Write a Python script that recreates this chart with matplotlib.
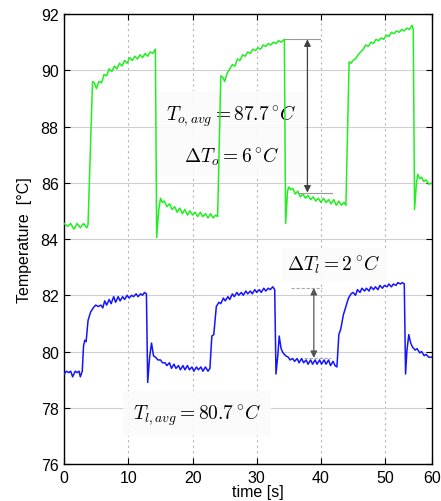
#!/usr/bin/env python3
"""Outer / inner temperature during periodic heating (two traces, annotated swings)."""

import matplotlib

matplotlib.use("Agg")
import matplotlib.pyplot as plt

# outer surface trace (green)
t_outer = [
    0.0, 0.5, 1.0, 1.5, 2.0, 2.5, 3.0, 3.5, 3.7, 4.4, 4.7, 5.0, 5.4, 5.8, 6.2, 6.6,
    7.0, 7.4, 7.8, 8.2, 8.6, 9.0, 9.4, 9.8, 10.2, 10.6, 11.0, 11.4, 11.8, 12.2,
    12.6, 13.0, 13.4, 13.8, 14.2, 14.4, 14.7, 15.0, 15.3, 15.6, 16.0, 16.4, 16.8,
    17.2, 17.6, 18.0, 18.4, 18.8, 19.2, 19.6, 20.0, 20.4, 20.8, 21.2, 21.6, 22.0,
    22.4, 22.8, 23.2, 23.6, 23.9, 24.4, 24.7, 25.0, 25.4, 25.8, 26.2, 26.6, 27.0,
    27.4, 27.8, 28.2, 28.6, 29.0, 29.4, 29.8, 30.2, 30.6, 31.0, 31.4, 31.8, 32.2,
    32.6, 33.0, 33.4, 33.8, 34.3, 34.5, 34.8, 35.0, 35.3, 35.6, 36.0, 36.4, 36.8,
    37.2, 37.6, 38.0, 38.4, 38.8, 39.2, 39.6, 40.0, 40.4, 40.8, 41.2, 41.6, 42.0,
    42.4, 42.8, 43.2, 43.6, 43.9, 44.4, 44.7, 45.0, 45.4, 45.8, 46.2, 46.6, 47.0,
    47.4, 47.8, 48.2, 48.6, 49.0, 49.4, 49.8, 50.2, 50.6, 51.0, 51.4, 51.8, 52.2,
    52.6, 53.0, 53.4, 53.8, 54.2, 54.4, 54.6, 54.9, 55.1, 55.4, 55.7, 56.0, 56.4,
    56.8, 57.4,
]
T_outer = [
    84.55, 84.45, 84.55, 84.35, 84.55, 84.4, 84.55, 84.4, 84.5, 89.6, 89.55, 89.35,
    89.6, 89.55, 89.85, 89.8, 90.05, 89.95, 90.15, 90.05, 90.25, 90.15, 90.35,
    90.25, 90.45, 90.35, 90.5, 90.4, 90.55, 90.45, 90.6, 90.5, 90.65, 90.6, 90.75,
    84.05, 85.0, 85.45, 85.3, 85.35, 85.15, 85.25, 85.05, 85.15, 84.95, 85.1, 84.9,
    85.05, 84.85, 85.0, 84.85, 84.95, 84.8, 84.95, 84.8, 84.9, 84.75, 84.9, 84.75,
    84.85, 84.8, 89.8, 89.75, 89.6, 89.9, 90.05, 90.2, 90.15, 90.4, 90.35, 90.55,
    90.5, 90.65, 90.6, 90.75, 90.7, 90.8, 90.75, 90.9, 90.85, 90.95, 90.9, 91.0,
    90.95, 91.05, 91.0, 91.1, 84.55, 85.7, 85.85, 85.75, 85.8, 85.6, 85.7, 85.5,
    85.6, 85.45, 85.55, 85.4, 85.5, 85.35, 85.45, 85.3, 85.45, 85.3, 85.4, 85.25,
    85.4, 85.2, 85.35, 85.2, 85.3, 85.2, 90.3, 90.25, 90.35, 90.4, 90.55, 90.65,
    90.75, 90.9, 90.85, 91.0, 90.95, 91.1, 91.05, 91.15, 91.1, 91.25, 91.2, 91.35,
    91.3, 91.4, 91.35, 91.45, 91.4, 91.5, 91.45, 91.6, 91.45, 85.05, 86.0, 86.3,
    86.15, 86.2, 86.05, 86.1, 85.95, 86.0,
]

# inner surface trace (blue)
t_inner = [
    0.0, 0.3, 0.7, 1.0, 1.3, 1.7, 2.0, 2.3, 2.5, 2.8, 3.0, 3.2, 3.4, 3.7, 4.1, 4.5,
    4.9, 5.3, 5.7, 6.0, 6.3, 6.6, 7.0, 7.3, 7.7, 8.0, 8.4, 8.7, 9.1, 9.4, 9.8,
    10.1, 10.5, 10.8, 11.2, 11.5, 11.9, 12.2, 12.5, 12.8, 13.0, 13.3, 13.6, 13.9,
    14.2, 14.6, 15.0, 15.3, 15.7, 16.0, 16.4, 16.7, 17.1, 17.4, 17.8, 18.1, 18.5,
    18.8, 19.2, 19.5, 19.9, 20.2, 20.6, 20.9, 21.3, 21.6, 22.0, 22.4, 22.7, 23.0,
    23.3, 23.7, 24.1, 24.4, 24.8, 25.1, 25.5, 25.8, 26.2, 26.5, 26.9, 27.2, 27.6,
    27.9, 28.3, 28.6, 29.0, 29.3, 29.7, 30.0, 30.4, 30.7, 31.1, 31.4, 31.8, 32.1,
    32.5, 32.8, 33.0, 33.3, 33.5, 33.8, 34.1, 34.5, 34.9, 35.2, 35.6, 35.9, 36.3,
    36.6, 37.0, 37.3, 37.7, 38.0, 38.4, 38.7, 39.1, 39.4, 39.8, 40.1, 40.5, 40.8,
    41.2, 41.5, 41.9, 42.2, 42.5, 42.8, 43.1, 43.5, 43.9, 44.3, 44.7, 45.0, 45.4,
    45.7, 46.1, 46.4, 46.8, 47.1, 47.5, 47.8, 48.2, 48.5, 48.9, 49.2, 49.6, 49.9,
    50.3, 50.6, 51.0, 51.3, 51.7, 52.0, 52.4, 52.7, 53.0, 53.2, 53.4, 53.7, 54.0,
    54.3, 54.7, 55.0, 55.4, 55.7, 56.1, 56.4, 56.8, 57.4,
]
T_inner = [
    79.2, 79.3, 79.25, 79.3, 79.1, 79.3, 79.25, 79.3, 79.1, 79.3, 80.2, 80.4, 80.35,
    81.1, 81.4, 81.55, 81.65, 81.6, 81.65, 81.55, 81.8, 81.65, 81.85, 81.7, 81.95,
    81.75, 81.95, 81.8, 81.95, 81.85, 82.0, 81.9, 82.0, 81.95, 82.05, 81.95, 82.05,
    82.0, 82.1, 82.05, 78.9, 79.8, 80.3, 79.85, 79.8, 79.7, 79.7, 79.6, 79.6, 79.5,
    79.6, 79.4, 79.55, 79.4, 79.5, 79.35, 79.5, 79.35, 79.5, 79.35, 79.45, 79.3,
    79.45, 79.35, 79.45, 79.3, 79.45, 79.3, 79.4, 80.55, 80.6, 81.6, 81.75, 81.7,
    81.9, 81.8, 81.95, 81.85, 82.05, 81.95, 82.1, 82.0, 82.1, 82.0, 82.15, 82.05,
    82.15, 82.05, 82.2, 82.1, 82.2, 82.1, 82.25, 82.15, 82.25, 82.2, 82.3, 82.2,
    79.2, 79.9, 80.55, 80.1, 79.95, 79.85, 79.8, 79.7, 79.75, 79.65, 79.75, 79.6,
    79.75, 79.6, 79.7, 79.55, 79.7, 79.55, 79.7, 79.55, 79.7, 79.55, 79.7, 79.55,
    79.7, 79.5, 79.65, 79.5, 79.45, 80.6, 80.8, 81.3, 81.6, 81.9, 82.05, 82.1, 82.0,
    82.2, 82.1, 82.25, 82.15, 82.25, 82.15, 82.3, 82.2, 82.3, 82.2, 82.35, 82.25,
    82.35, 82.3, 82.4, 82.3, 82.4, 82.35, 82.45, 82.4, 82.45, 82.4, 79.2, 80.0,
    80.6, 80.3, 80.15, 80.05, 80.1, 79.95, 80.0, 79.85, 79.9, 79.8, 79.8,
]

x_ticks = [0, 10, 20, 30, 40, 50, 57.37]
x_tick_labels = ["0", "10", "20", "30", "40", "50", "60"]
y_ticks = [76, 78, 80, 82, 84, 86, 88, 90, 92]

# swing markers: (time, low, high)
outer_swing = (37.9, 85.65, 91.1)
inner_swing = (38.9, 79.77, 82.26)

plt.rcParams["font.family"] = ["Liberation Sans", "DejaVu Sans"]
plt.rcParams["mathtext.fontset"] = "cm"

fig = plt.figure(figsize=(4.41, 5.02), dpi=100)
ax = fig.add_axes([0.1458, 0.0737, 0.8345, 0.8964])
ax.set_axisbelow(True)

ax.plot(t_outer, T_outer, color="#22ee22", lw=1.1, zorder=3)
ax.plot(t_inner, T_inner, color="#1414ff", lw=1.1, zorder=3)

ax.set_xlim(0, x_ticks[-1])
ax.set_ylim(76, 92)
ax.set_xticks(x_ticks)
ax.set_xticklabels(x_tick_labels)
ax.set_yticks(y_ticks)
ax.tick_params(direction="in", top=True, right=True, length=4, labelsize=11.5,
               width=0.8, pad=4)
ax.yaxis.grid(True, color="#cfcfcf", lw=0.8, ls="-")
ax.xaxis.grid(True, color="#b5b5b5", lw=0.8, ls=(0, (2, 3)))
for s in ax.spines.values():
    s.set_linewidth(1.0)

ax.set_xlabel("time [s]", fontsize=11.5)
ax.xaxis.set_label_coords(0.525, -0.044)
ax.set_ylabel("Temperature  [°C]", fontsize=11.5, labelpad=6)

box = dict(facecolor="#fbfbfb", edgecolor="none", alpha=0.9, pad=6)

ax.text(26.1, 87.7, "$T_{o,avg} = 87.7\\,^{\\circ}C$\n\n$\\Delta T_o = 6\\,^{\\circ}C$",
        ha="center", va="center", multialignment="center", fontsize=14,
        linespacing=1.0, bbox=box, zorder=2)
ax.text(20.7, 77.78, "$T_{l,avg} = 80.7\\,^{\\circ}C$", ha="center", va="center",
        fontsize=14, bbox=dict(facecolor="#fbfbfb", edgecolor="none", alpha=0.9,
                               pad=7), zorder=2)
ax.text(42.0, 83.1, "$\\Delta T_l = 2\\,^{\\circ}C$", ha="center", va="center",
        fontsize=14, bbox=dict(facecolor="#fbfbfb", edgecolor="none", alpha=0.9,
                               pad=4), zorder=2)

# outer swing arrow and guide lines
tx, lo, hi = outer_swing
ax.plot([34.4, 39.8], [hi, hi], color="#999999", lw=0.8, zorder=4)
ax.plot([36.4, 41.7], [lo, lo], color="#999999", lw=0.8, zorder=4)
ax.annotate("", xy=(tx, hi), xytext=(tx, lo),
            arrowprops=dict(arrowstyle="<|-|>", color="#404040", lw=0.9,
                            mutation_scale=10, shrinkA=0, shrinkB=0), zorder=5)

# inner swing arrow and guide lines
tx, lo, hi = inner_swing
ax.plot([35.4, 40.1], [hi, hi], color="#aaaaaa", lw=0.8, ls=(0, (3, 1.5)), zorder=4)
ax.plot([37.4, 41.5], [lo, lo], color="#aaaaaa", lw=0.8, ls=(0, (3, 1.5)), zorder=4)
ax.annotate("", xy=(tx, hi), xytext=(tx, lo),
            arrowprops=dict(arrowstyle="<|-|>", color="#555555", lw=0.9,
                            mutation_scale=10, shrinkA=0, shrinkB=0), zorder=5)

fig.savefig("out.png", dpi=100)
